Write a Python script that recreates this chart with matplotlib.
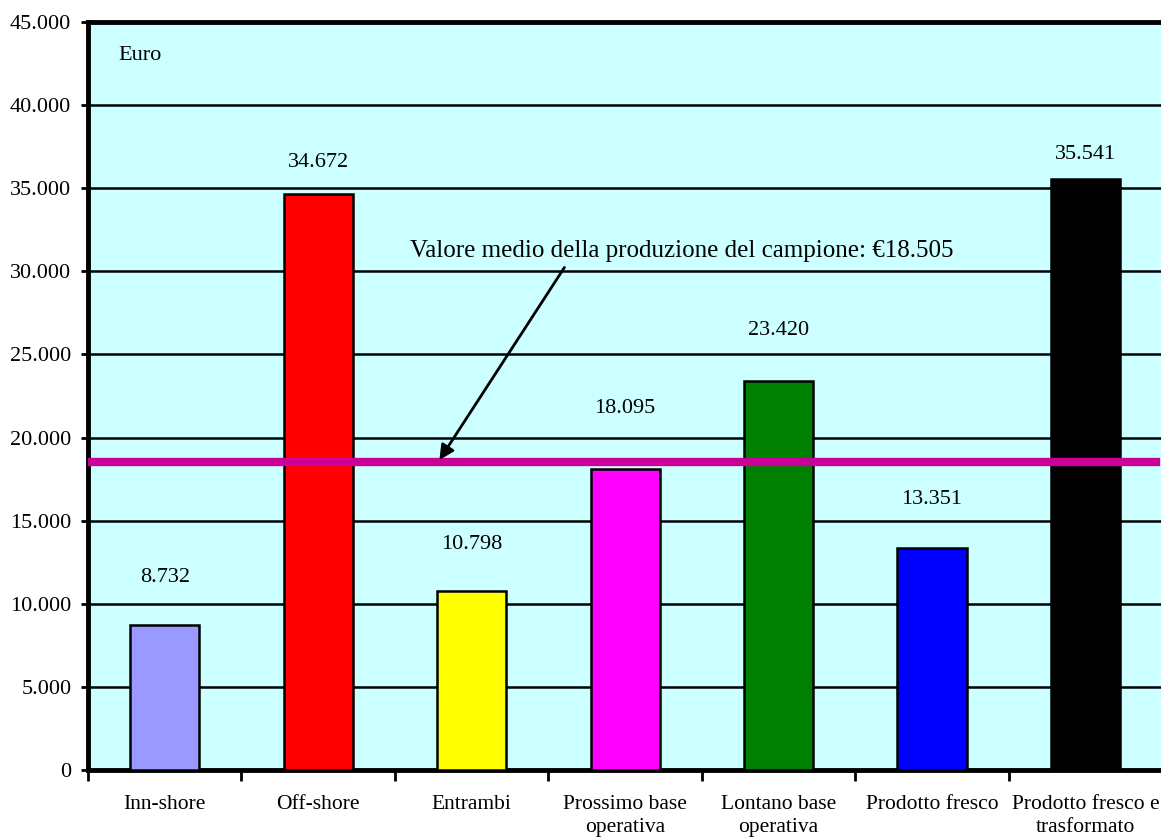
import numpy as np
import matplotlib.pyplot as plt
from matplotlib.ticker import FuncFormatter, FixedLocator

plt.rcParams['font.family'] = ['Liberation Serif', 'DejaVu Serif']

categorie = ["Inn-shore", "Off-shore", "Entrambi", "Prossimo base\noperativa",
             "Lontano base\noperativa", "Prodotto fresco", "Prodotto fresco e\ntrasformato"]
valori = [8732, 34672, 10798, 18095, 23420, 13351, 35541]
colori = ["#9999FF", "#FF0000", "#FFFF00", "#FF00FF", "#008000", "#0000FF", "#000000"]
media = 18505
# distanza (in euro) delle etichette sopra le barre
offset_etichette = [2880, 1850, 2740, 3625, 3050, 2900, 1460]


def migliaia(v, pos):
    return f"{int(v):,}".replace(",", ".")


fig = plt.figure(figsize=(11.61, 8.39), dpi=100)
ax = fig.add_axes([0.0758, 0.0822, 0.9252, 0.8916])
ax.set_facecolor("#CCFFFF")

x = np.arange(len(categorie))
ax.bar(x, valori, width=0.45, color=colori, edgecolor="black", linewidth=1.8, zorder=3)

for xi, v, off in zip(x, valori, offset_etichette):
    ax.text(xi, v + off, migliaia(v, None), ha="center", va="center", fontsize=16, zorder=4)

ax.axhline(media, color="#CC0099", linewidth=6, zorder=4, xmax=0.994)

ax.annotate(f"Valore medio della produzione del campione: €{migliaia(media, None)}",
            xy=(1.79, 18650), xytext=(3.37, 31200), ha="center", va="center",
            fontsize=18, zorder=5,
            arrowprops=dict(arrowstyle="-|>", color="black", lw=2,
                            mutation_scale=22, shrinkA=2, shrinkB=0,
                            relpos=(0.29, 0.0)))

ax.text(-0.30, 43000, "Euro", ha="left", va="center", fontsize=16)

ax.set_xlim(-0.5, len(categorie) - 0.5)
ax.set_ylim(0, 45000)
ax.set_yticks(np.arange(0, 45001, 5000))
ax.yaxis.set_major_formatter(FuncFormatter(migliaia))
ax.yaxis.grid(True, color="black", linewidth=1.8, zorder=1)
ax.set_axisbelow(True)

ax.xaxis.set_major_locator(FixedLocator(np.arange(-0.5, len(categorie), 1.0)))
ax.xaxis.set_major_formatter(FuncFormatter(lambda v, p: ""))
ax.set_xticks(x, minor=True)
ax.set_xticklabels(categorie, minor=True, fontsize=15.5, linespacing=1.3)
ax.tick_params(axis="x", which="minor", length=0, pad=18)
ax.tick_params(axis="x", which="major", length=8, width=2)
ax.tick_params(axis="y", length=5, width=2, labelsize=16, pad=7)

for s in ax.spines.values():
    s.set_linewidth(3.5)

fig.savefig("out.png", dpi=100)
